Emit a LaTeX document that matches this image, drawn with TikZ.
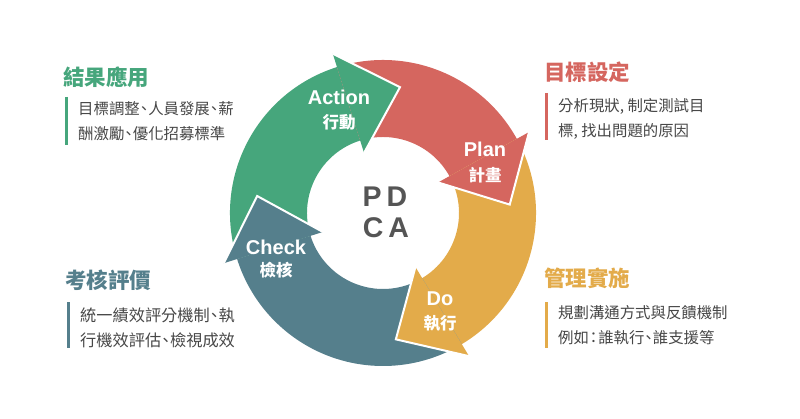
\documentclass[tikz,border=0pt]{standalone}
\usepackage{fontspec}
\setmainfont{Liberation Sans}
\newfontfamily\cjk{Noto Sans CJK TC}
\newcommand\pdun{\makebox[0.55em][c]{、}}
\newcommand\pcol{\makebox[0.6em][c]{：}}
\definecolor{pgreen}{HTML}{46A67C}
\definecolor{pred}{HTML}{D5665F}
\definecolor{pyellow}{HTML}{E3AB4A}
\definecolor{pblue}{HTML}{557F8C}
\definecolor{ptext}{HTML}{474747}
\definecolor{pcenter}{HTML}{555555}
\tikzset{
  lab/.style={text=white, inner sep=0, font=\fontsize{20}{20}\selectfont\bfseries},
  labcjk/.style={text=white, inner sep=0, font=\cjk\fontsize{16.5}{16.5}\selectfont\bfseries},
  ttl/.style={anchor=west, inner sep=0, font=\cjk\fontsize{21.5}{21.5}\selectfont\bfseries},
  body/.style={anchor=west, inner sep=0, text=ptext, font=\cjk\fontsize{15.4}{15.4}\selectfont},
  bodyb/.style={anchor=west, inner sep=0, text=ptext, font=\cjk\fontsize{16.2}{16.2}\selectfont},
  bar/.style={line width=3},
  ctr/.style={inner sep=0, text=pcenter, font=\fontsize{28.5}{28.5}\selectfont\bfseries}
}
\begin{document}
\begin{tikzpicture}[x=1pt,y=1pt]
\useasboundingbox (0,0) rectangle (800,418);
\fill[white] (0,0) rectangle (800,418);
\begin{scope}[shift={(383,205)}]
  \foreach \a/\b/\c in {197.5/107.5/pgreen, 107.5/29/pred, 29/-59/pyellow, -59/-162.5/pblue}{
    \fill[\c] (\a:153) arc[start angle=\a, end angle=\b, radius=153] -- (\b:76)
      arc[start angle=\b, end angle=\a, radius=76] -- cycle;
  }
  \foreach \b/\c in {107.5/pgreen, 29/pred, -59/pyellow, -162.5/pblue}{
    \fill[\c] (\b:63) -- (\b:167) -- ({\b-25.2}:127) -- cycle;
    \draw[white, line width=2, line join=miter] (\b:167) -- ({\b-25.2}:127) -- (\b:63);
  }
\end{scope}
% ring labels
\node[lab] (act) at (339,321) {Action};
\node[labcjk] (actc) at (339,296) {行動};
\node[lab] (pln) at (485,269) {Plan};
\node[labcjk] (plnc) at (485,243) {計畫};
\node[lab] (do) at (440,119) {Do};
\node[labcjk] (doc) at (440,95) {執行};
\node[lab] (chk) at (276,171) {Check};
\node[labcjk] (chkc) at (276,148) {檢核};
% center
\node[ctr] (pd) at (385,221) {P\hspace{5pt}D};
\node[ctr] (ca) at (386,190) {C\hspace{5pt}A};
% top left
\node[ttl, text=pgreen] (t1) at (63,341) {結果應用};
\draw[bar, pgreen] (66,321) -- (66,273);
\node[body] (b1a) at (78,309) {目標調整\pdun 人員發展\pdun 薪};
\node[body] (b1b) at (78,284) {酬激勵\pdun 優化招募標準};
% top right
\node[ttl, text=pred] (t2) at (544,346) {目標設定};
\draw[bar, pred] (546,325) -- (546,278);
\node[body] (b2a) at (558,312) {分析現狀, 制定測試目};
\node[body] (b2b) at (558,287) {標, 找出問題的原因};
% bottom left
\node[ttl, text=pblue] (t3) at (65,138) {考核評價};
\draw[bar, pblue] (68,116) -- (68,70);
\node[bodyb] (b3a) at (80,103) {統一績效評分機制\pdun 執};
\node[bodyb] (b3b) at (80,78) {行機效評估\pdun 檢視成效};
% bottom right
\node[ttl, text=pyellow] (t4) at (544,140) {管理實施};
\draw[bar, pyellow] (546,116) -- (546,70);
\node[body] (b4a) at (558,105) {規劃溝通方式與反饋機制};
\node[body] (b4b) at (558,80) {例如\pcol 誰執行\pdun 誰支援等};
\end{tikzpicture}
\end{document}
